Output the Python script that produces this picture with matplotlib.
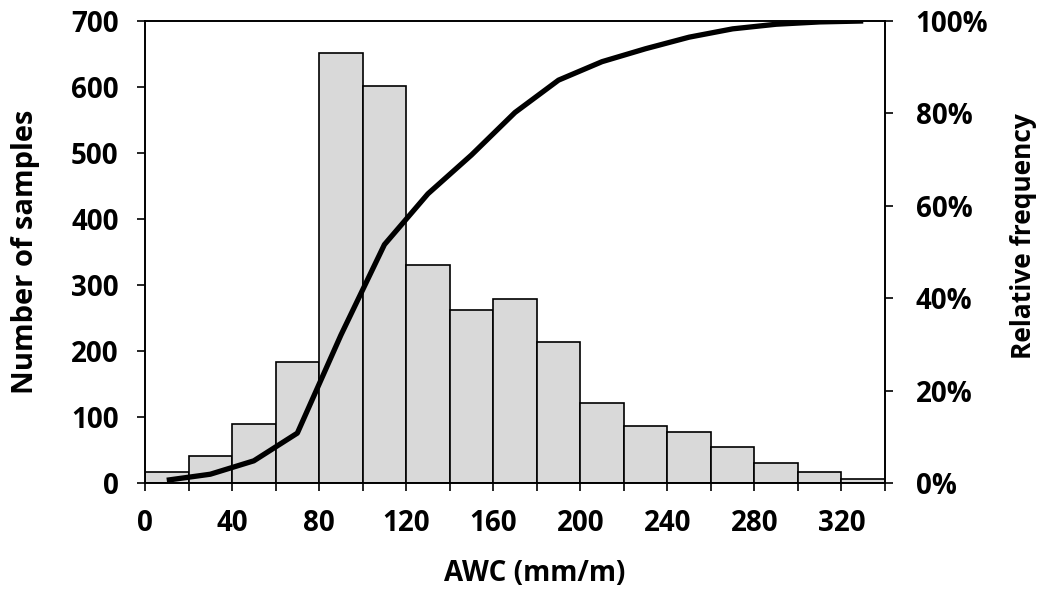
import matplotlib
matplotlib.use("Agg")
import matplotlib.pyplot as plt
from matplotlib.ticker import FuncFormatter

plt.rcParams['font.family'] = ['Open Sans', 'DejaVu Sans']
plt.rcParams['font.weight'] = 'bold'

# Histogram data (bin width 20 mm/m)
bin_left = [0, 20, 40, 60, 80, 100, 120, 140, 160, 180, 200, 220, 240, 260, 280, 300, 320]
counts = [17, 41, 89, 183, 652, 601, 331, 262, 279, 213, 121, 87, 77, 54, 31, 16, 6]
# Cumulative relative frequency at bin midpoints (%)
mid_x = [10, 30, 50, 70, 90, 110, 130, 150, 170, 190, 210, 230, 250, 270, 290, 310, 330]
cum_pct = [0.6, 1.9, 4.8, 10.8, 32.0, 51.6, 62.6, 71.0, 80.2, 87.2, 91.2, 94.0, 96.5, 98.3, 99.3, 99.8, 100.0]

x_ticks = list(range(0, 341, 20))
x_labels = [str(v) if v % 40 == 0 and v <= 320 else '' for v in x_ticks]
y_ticks = [0, 100, 200, 300, 400, 500, 600, 700]
y2_ticks = [0, 20, 40, 60, 80, 100]

fig = plt.figure(figsize=(10.41, 5.97), dpi=100)
ax = fig.add_axes([145/1041, 1 - 483/597, 740/1041, 462/597])
ax.bar(bin_left, counts, width=20, align='edge', color='#d9d9d9', edgecolor='black', linewidth=1.2, zorder=2)
ax.set_xlim(0, 340)
ax.set_ylim(0, 700)
ax.set_xticks(x_ticks)
ax.set_xticklabels(x_labels)
ax.set_yticks(y_ticks)
for s in ax.spines.values():
    s.set_linewidth(1.2)
ax.tick_params(axis='x', direction='out', length=6, width=1.2, pad=13, labelsize=20)
ax.tick_params(axis='y', direction='out', length=6, width=1.2, pad=13, labelsize=20)
ax.set_xlabel('AWC (mm/m)', fontsize=20, fontweight='bold', labelpad=15)
ax.xaxis.label.set_x(0.527)
ax.set_ylabel('Number of samples', fontsize=21, fontweight='bold', labelpad=22)

ax2 = ax.twinx()
ax2.plot(mid_x, cum_pct, color='black', linewidth=3.8, solid_capstyle='butt', zorder=3)
ax2.set_ylim(0, 100)
ax2.set_yticks(y2_ticks)
ax2.yaxis.set_major_formatter(FuncFormatter(lambda v, p: f"{int(v)}%"))
ax2.tick_params(axis='y', direction='out', length=6, width=1.2, pad=16, labelsize=20)
for s in ax2.spines.values():
    s.set_linewidth(1.2)
ax2.set_ylabel('Relative frequency', fontsize=19, fontweight='bold', labelpad=16)
ax2.yaxis.label.set_y(0.535)

fig.savefig('out.png', dpi=100)
